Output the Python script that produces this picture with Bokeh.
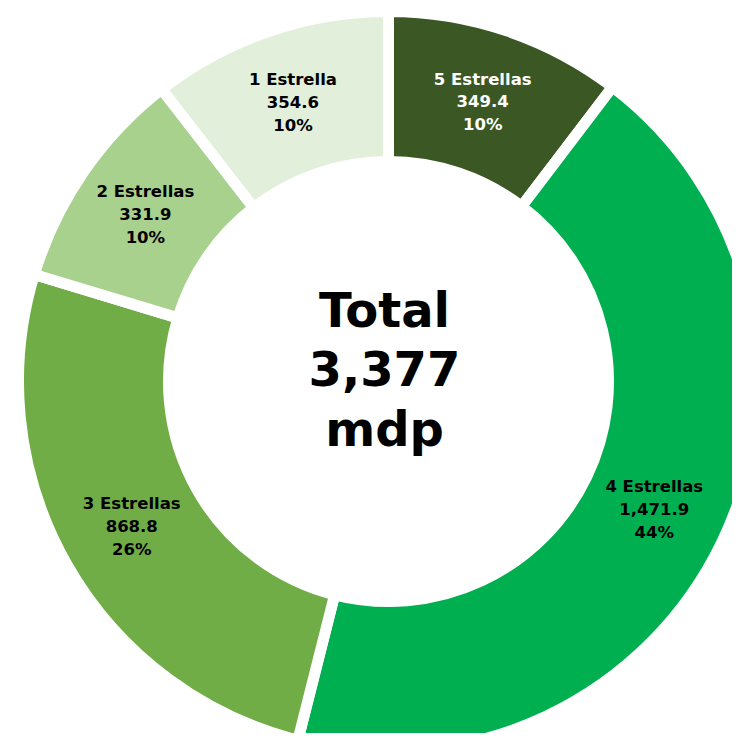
import math
from bokeh.plotting import figure
from bokeh.models import ColumnDataSource, Range1d
from bokeh.core.properties import value
from bokeh.embed import file_html
from bokeh.resources import INLINE

# Data (clockwise from 12 o'clock)
categories = ["5 Estrellas", "4 Estrellas", "3 Estrellas", "2 Estrellas", "1 Estrella"]
values = [349.4, 1471.9, 868.8, 331.9, 354.6]
percents = [10, 44, 26, 10, 10]
colors = ["#3A5724", "#00B050", "#70AD47", "#A9D18E", "#E2EFDA"]
label_colors = ["white", "black", "black", "black", "black"]
center_title = "Total"
center_unit = "mdp"

W, H = 732, 733
CX, CY = 388, 352
R_OUT, R_IN = 370, 220
R_LABEL = 295

total = sum(values)
starts, ends, tx, ty, texts = [], [], [], [], []
cum = 0.0
for cat, v, pc in zip(categories, values, percents):
    f0 = cum / total
    f1 = (cum + v) / total
    cum += v
    starts.append(math.pi / 2 - 2 * math.pi * f0)
    ends.append(math.pi / 2 - 2 * math.pi * f1)
    fm = (f0 + f1) / 2
    a = math.pi / 2 - 2 * math.pi * fm
    tx.append(CX + R_LABEL * math.cos(a))
    ty.append(CY + R_LABEL * math.sin(a))
    texts.append(f"{cat}\n{v:,.1f}\n{pc}%")

src = ColumnDataSource(dict(start=starts, end=ends, color=colors,
                            tx=tx, ty=ty, text=texts, tcolor=label_colors))

p = figure(width=W, height=H, output_backend="svg", toolbar_location=None,
           x_range=Range1d(0, W), y_range=Range1d(0, H), min_border=0)
p.axis.visible = False
p.grid.visible = False
p.outline_line_color = None
p.background_fill_color = "white"
p.border_fill_color = "white"

p.annular_wedge(x=CX, y=CY, inner_radius=R_IN, outer_radius=R_OUT,
                start_angle="start", end_angle="end", direction="clock",
                fill_color="color", line_color="white", line_width=11,
                source=src)

p.text(x="tx", y="ty", text="text", text_color="tcolor", source=src,
       text_align="center", text_baseline="middle",
       text_font=value("DejaVu Sans"), text_font_style="bold",
       text_font_size="16.5px", text_line_height=1.2)

center_text = f"{center_title}\n{total:,.0f}\n{center_unit}"
p.text(x=[CX - 4], y=[CY + 12], text=[center_text], text_color="black",
       text_align="center", text_baseline="middle",
       text_font=value("DejaVu Sans"), text_font_style="bold",
       text_font_size="48px", text_line_height=1.06)

open("out.html", "w").write(file_html(p, INLINE))
